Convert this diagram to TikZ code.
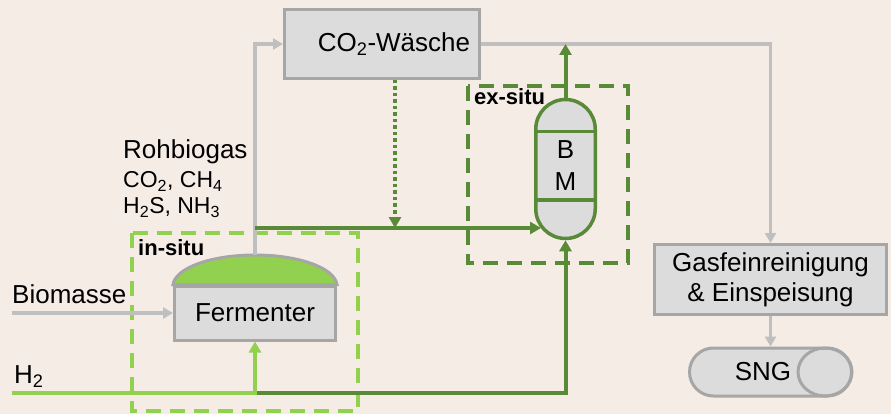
\documentclass[tikz,border=0pt]{standalone}
\usepackage{fontspec}
\setmainfont{Liberation Sans}
\usetikzlibrary{arrows.meta,shapes.misc}
\definecolor{bgc}{HTML}{F5ECE6}
\definecolor{boxfill}{HTML}{DCDCDC}
\definecolor{boxline}{HTML}{A6A6A6}
\definecolor{lineg}{HTML}{BFBFBF}
\definecolor{lgreen}{HTML}{92D050}
\definecolor{dgreen}{HTML}{588A38}
\begin{document}
\begin{tikzpicture}[x=1pt,y=-1pt,
  font=\fontsize{26}{30}\selectfont,
  box/.style={draw=boxline, fill=boxfill, line width=3pt, inner sep=0pt, align=center},
  grayline/.style={draw=lineg, line width=3.5pt},
  garrow/.style={grayline, -{Triangle[length=10pt,width=11pt]}},
  dgline/.style={draw=dgreen, line width=4pt},
  dgarrow/.style={dgline, -{Triangle[length=11pt,width=12pt]}},
  lgline/.style={draw=lgreen, line width=4pt},
  lgarrow/.style={lgline, -{Triangle[length=11pt,width=12pt]}},
  dotarrow/.style={draw=dgreen, line width=3.5pt, dash pattern=on 3.5pt off 3pt, -{Triangle[length=11pt,width=12pt]}},
  dashbox/.style={line width=4pt, dash pattern=on 15pt off 9pt},
  lbl/.style={inner sep=0pt, anchor=base west},
  sublbl/.style={lbl, font=\fontsize{23}{27}\selectfont},
  boldlbl/.style={lbl, font=\fontsize{22}{26}\selectfont\bfseries},
]
\useasboundingbox (0,0) rectangle (891,414);
\fill[bgc] (0,0) rectangle (891,414);

% dashed regions
\draw[dashbox, draw=lgreen] (132,233) rectangle (358,411);
\draw[dashbox, draw=dgreen] (468,86) rectangle (628,263);

% nodes
\node[box, minimum width=195pt, minimum height=69pt] (wash) at (382,44) {\hspace*{24pt}CO\textsubscript{2}-Wäsche};
\node[box, minimum width=232pt, minimum height=70pt] (gas) at (770.5,279.5) {Gasfeinreinigung\\\& Einspeisung};
\node[box, minimum width=161pt, minimum height=54pt] (ferm) at (255,313) {Fermenter};
\coordinate (dometop) at (255,255);
\draw[draw=boxline, fill=lgreen, line width=3pt] (ferm.north west)
  .. controls (175.5,268) and (211,255) .. (dometop)
  .. controls (299,255) and (334.5,268) .. (ferm.north east) -- cycle;
\node[draw=dgreen, fill=boxfill, line width=3.5pt, minimum width=59.5pt, minimum height=139pt,
      rounded corners=29.75pt, inner sep=0pt, align=center] (bm) at (565.5,169) {};
\draw[draw=dgreen, line width=3.5pt] ([yshift=-34pt]bm.north west) -- ([yshift=-34pt]bm.north east);
\draw[draw=dgreen, line width=3.5pt] ([yshift=40pt]bm.south west) -- ([yshift=40pt]bm.south east);
\node[inner sep=0pt, align=center] (bmtext) at (565.5,166) {B\\[2pt]M};
\node[draw=boxline, fill=boxfill, line width=3pt, rounded rectangle, minimum width=162pt, minimum height=48pt, inner sep=0pt] (sng) at (770.5,372) {};
\draw[draw=boxline, line width=3pt] (825,372) ellipse [x radius=27pt, y radius=24pt];
\node[inner sep=0pt] (sngtext) at (763,372) {SNG};

% labels
\node[lbl] (roh) at (123,159) {Rohbiogas};
\node[sublbl] (gas1) at (123,188) {CO\textsubscript{2}, CH\textsubscript{4}};
\node[sublbl] (gas2) at (123,214) {H\textsubscript{2}S, NH\textsubscript{3}};
\node[lbl] (bio) at (12,303) {Biomasse};
\node[lbl] (h2) at (14,383) {H\textsubscript{2}};
\node[boldlbl] (insitu) at (138,255) {in-situ};
\node[boldlbl] (exsitu) at (474,105) {ex-situ};

% coordinates
\coordinate (biostart) at (12,313);
\coordinate (h2start) at (12,393);
\coordinate (j1) at (255,393);
\coordinate (rj) at (255,228);
\coordinate (bmin) at (541,228);

% connectors
\draw[garrow] (biostart) -- (ferm.west);
\draw[garrow] (dometop) -- (dometop |- wash.west) -- (wash.west);
\draw[garrow] (wash.east) -| (gas.north);
\draw[garrow] (gas.south) -- (sng.north);
\draw[dgarrow] (rj) -- (bmin);
\draw[dotarrow] ([xshift=13pt]wash.south) -- ([xshift=13pt]wash.south |- rj);
\draw[dgarrow] (bm.north) -- (bm.north |- wash.east);
\draw[dgarrow] (j1) -| (bm.south);
\draw[lgarrow] (h2start) -- (j1) -- (ferm.south);
\end{tikzpicture}
\end{document}
